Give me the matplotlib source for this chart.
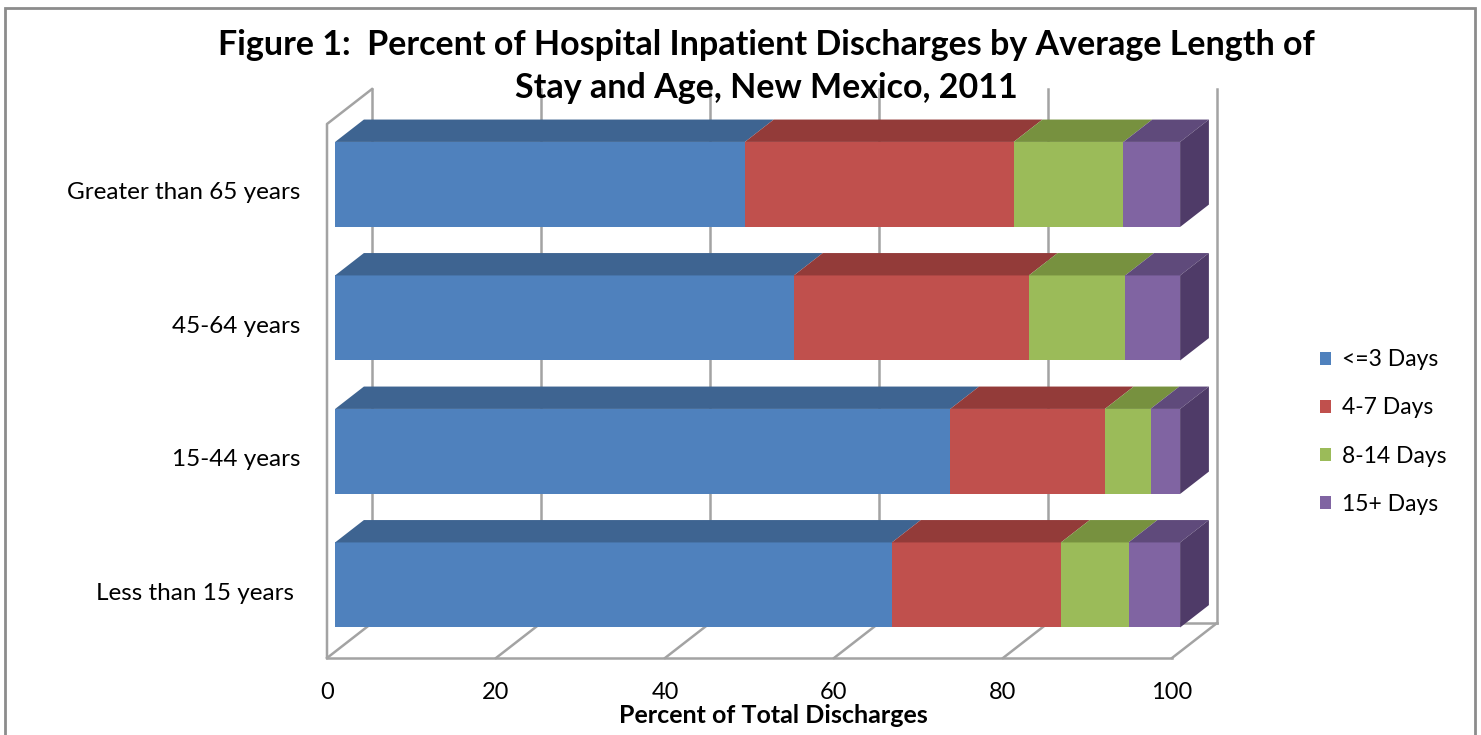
import matplotlib.pyplot as plt
from matplotlib.patches import Polygon, Rectangle

plt.rcParams['font.family'] = ['Lato', 'DejaVu Sans']

# data (bottom row first)
ages = ['Less than 15 years ', '15-44 years', '45-64 years', 'Greater than 65 years']
stay_groups = ['<=3 Days', '4-7 Days', '8-14 Days', '15+ Days']
le3 = [65.9, 72.8, 54.3, 48.5]
d4_7 = [20.0, 18.3, 27.8, 31.8]
d8_14 = [8.0, 5.4, 11.4, 13.0]
d15 = [6.1, 3.5, 6.5, 6.7]
xticks = [0, 20, 40, 60, 80, 100]

front = ['#4F81BD', '#C0504D', '#9BBB59', '#8064A2']
top = ['#3E6491', '#933B39', '#77913F', '#5F4A7B']
side = '#4F3B68'
grid = '#A3A3A3'

fig = plt.figure(figsize=(14.81, 7.35), dpi=100)
ax = fig.add_axes([327 / 1481, 77 / 735, 845 / 1481, 534 / 735])
ax.set_xlim(0, 100)
ax.set_ylim(-0.5, 3.5)

# depth of the 3d box in data units
DX = 5.325
DY = 0.262
d0, d1 = 0.18, 0.82
h = 0.637

# walls and floor
for v in xticks:
    ax.plot([v + DX, v + DX], [-0.5 + DY, 3.5 + DY], color=grid, lw=1.8, zorder=1, clip_on=False)
    ax.plot([v, v + DX], [-0.5, -0.5 + DY], color=grid, lw=1.8, zorder=1, clip_on=False)
ax.plot([0, 100], [-0.5, -0.5], color=grid, lw=1.8, zorder=1, clip_on=False)
ax.plot([DX, 100 + DX], [-0.5 + DY, -0.5 + DY], color=grid, lw=1.8, zorder=1, clip_on=False)
ax.plot([0, 0, DX], [-0.5, 3.5, 3.5 + DY], color=grid, lw=1.8, zorder=1, clip_on=False)

series = [le3, d4_7, d8_14, d15]
y = list(range(len(ages)))
left = [0.0] * len(ages)
fx, fy = d0 * DX, d0 * DY
bx, by = (d1 - d0) * DX, (d1 - d0) * DY
for k, vals in enumerate(series):
    ax.barh([i + fy for i in y], vals, height=h, left=[l + fx for l in left],
            color=front[k], label=stay_groups[k], zorder=3, clip_on=False)
    for i in y:
        a = left[i] + fx
        b = left[i] + vals[i] + fx
        yt = i + fy + h / 2
        ax.add_patch(Polygon([(a, yt), (b, yt), (b + bx, yt + by), (a + bx, yt + by)],
                             closed=True, facecolor=top[k], edgecolor='none', zorder=3, clip_on=False))
        if k == len(series) - 1:
            yb = i + fy - h / 2
            ax.add_patch(Polygon([(b, yb), (b, yt), (b + bx, yt + by), (b + bx, yb + by)],
                                 closed=True, facecolor=side, edgecolor='none', zorder=3, clip_on=False))
    left = [left[i] + vals[i] for i in y]

ax.set_yticks(y)
ax.set_yticklabels(ages, fontsize=17.5)
ax.set_xticks(xticks)
ax.set_xticklabels([str(t) for t in xticks], fontsize=17)
ax.tick_params(length=0)
ax.tick_params(axis='y', pad=19)
ax.tick_params(axis='x', pad=17)
for s in ax.spines.values():
    s.set_visible(False)
ax.set_xlabel('Percent of Total Discharges', fontsize=18, fontweight='bold')
ax.xaxis.set_label_coords((773 - 327) / 845, -0.087)

ax.legend(loc='center left', bbox_to_anchor=(1320 / 1481, 303 / 735), bbox_transform=fig.transFigure,
          frameon=False, fontsize=16.5, handlelength=0.5, handleheight=0.5, handletextpad=0.45,
          labelspacing=1.18, borderpad=0, borderaxespad=0)

fig.suptitle('Figure 1:  Percent of Hospital Inpatient Discharges by Average Length of\nStay and Age, New Mexico, 2011',
             x=766 / 1481, y=1 - 29 / 735, va='top', fontsize=24.5, fontweight='bold', linespacing=1.42)

fig.add_artist(Rectangle((5 / 1481, -0.01), 1470 / 1481, 1 - 8 / 735 + 0.01, transform=fig.transFigure,
                         fill=False, edgecolor='#8C8C8C', lw=2))

fig.savefig('out.png', dpi=100)
